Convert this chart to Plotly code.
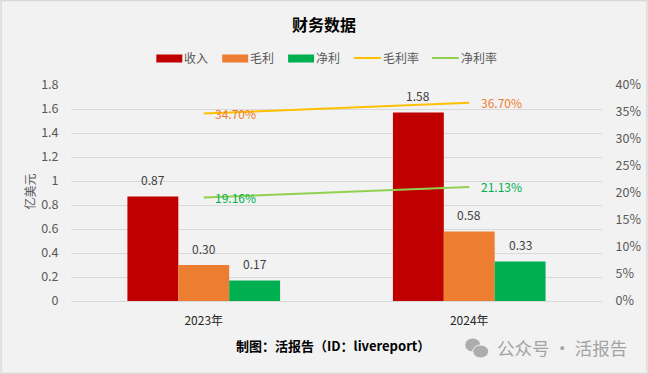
import plotly.graph_objects as go

W, H = 648, 374
FONT = "Noto Sans CJK SC, Microsoft YaHei, sans-serif"

# Data
categories = ["2023年", "2024年"]
revenue = [0.87, 1.57]
gross_profit = [0.30, 0.58]
net_profit = [0.17, 0.33]
gross_margin = [0.347, 0.367]
net_margin = [0.1916, 0.2113]
revenue_labels = ["0.87", "1.58"]
gross_profit_labels = ["0.30", "0.58"]
net_profit_labels = ["0.17", "0.33"]
gross_margin_labels = ["34.70%", "36.70%"]
net_margin_labels = ["19.16%", "21.13%"]
left_ticks = [0, 0.2, 0.4, 0.6, 0.8, 1, 1.2, 1.4, 1.6, 1.8]
left_tick_text = ["0", "0.2", "0.4", "0.6", "0.8", "1", "1.2", "1.4", "1.6", "1.8"]
right_ticks = [0, 0.05, 0.10, 0.15, 0.20, 0.25, 0.30, 0.35, 0.40]
right_tick_text = ["0%", "5%", "10%", "15%", "20%", "25%", "30%", "35%", "40%"]
title_text = "财务数据"
y_title = "亿美元"
credit = "制图：活报告（ID：livereport）"
watermark = "公众号 · 活报告"

RED, ORANGE, GREEN, GOLD, LIME = "#C00000", "#ED7D31", "#00B050", "#FFC000", "#92D050"
L, R, T, B = 70.5, 45.5, 85, 73


def px(x):
    return (x - L) / (W - L - R)


def py(y):
    return (H - B - y) / (H - T - B)


fig = go.Figure()
for name, vals, col in [("收入", revenue, RED), ("毛利", gross_profit, ORANGE), ("净利", net_profit, GREEN)]:
    fig.add_trace(go.Bar(name=name, x=categories, y=vals, marker=dict(color=col, line_width=0),
                         showlegend=False, cliponaxis=False))
for name, vals, col in [("毛利率", gross_margin, GOLD), ("净利率", net_margin, LIME)]:
    fig.add_trace(go.Scatter(name=name, x=categories, y=vals, yaxis="y2", mode="lines",
                             line=dict(color=col, width=2), showlegend=False))

ann = []
shapes = []


def text(x, y, s, size=12, color="#595959", **kw):
    ann.append(dict(x=px(x), y=py(y), xref="paper", yref="paper", text=s, showarrow=False,
                    font=dict(family=FONT, size=size, color=color), xanchor=kw.pop("xanchor", "center"),
                    yanchor="middle", **kw))


# Bar labels
for i, cat in enumerate(categories):
    for k, (vals, labels) in enumerate([(revenue, revenue_labels), (gross_profit, gross_profit_labels),
                                        (net_profit, net_profit_labels)]):
        ann.append(dict(x=i, y=vals[i], xref="x", yref="y", text=labels[i], showarrow=False,
                        xshift=(k - 1) * 51, yshift=17, yanchor="middle",
                        font=dict(family=FONT, size=12, color="#404040")))
    ann.append(dict(x=i, y=gross_margin[i], xref="x", yref="y2", text=gross_margin_labels[i], showarrow=False,
                    xshift=32, yshift=0, yanchor="middle", font=dict(family=FONT, size=12, color=ORANGE)))
    ann.append(dict(x=i, y=net_margin[i], xref="x", yref="y2", text=net_margin_labels[i], showarrow=False,
                    xshift=32, yshift=0, yanchor="middle", font=dict(family=FONT, size=12, color=GREEN)))

text(324, 24, "<b>" + title_text + "</b>", size=16, color="#000000")
text(332.5, 345, "<b>" + credit + "</b>", size=13, color="#000000")
text(562, 347, watermark, size=17.5, color="#a3a3a3")
text(28, 192, y_title, textangle=-90)

# Legend built to match the wide swatches
for x0, name, col in [(156, "收入", RED), (222, "毛利", ORANGE), (288, "净利", GREEN)]:
    shapes.append(dict(type="rect", xref="paper", yref="paper", x0=px(x0), x1=px(x0 + 26), y0=py(62.5), y1=py(54.5),
                       fillcolor=col, line_width=0))
    text(x0 + 26, 57.5, name, xanchor="left")
for x0, name, col in [(354, "毛利率", GOLD), (432, "净利率", LIME)]:
    shapes.append(dict(type="line", xref="paper", yref="paper", x0=px(x0), x1=px(x0 + 27), y0=py(58), y1=py(58),
                       line=dict(color=col, width=2)))
    text(x0 + 27, 57.5, name, xanchor="left")

# Chart border and watermark icon
shapes.append(dict(type="rect", xref="paper", yref="paper", x0=px(0.5), x1=px(647.5), y0=py(373.5), y1=py(0.5),
                   line=dict(color="#d9d9d9", width=1.5), fillcolor="rgba(0,0,0,0)"))
for x0, x1, y0, y1 in [(465, 481, 338, 352), (473, 489, 345, 358)]:
    shapes.append(dict(type="circle", xref="paper", yref="paper", x0=px(x0), x1=px(x1), y0=py(y1), y1=py(y0),
                       fillcolor="#adadad", line=dict(color="#f2f2f2", width=1)))

fig.update_layout(
    width=W, height=H, autosize=False,
    margin=dict(l=L, r=R, t=T, b=B, pad=0),
    paper_bgcolor="#F2F2F2", plot_bgcolor="#F2F2F2",
    font=dict(family=FONT, size=12, color="#595959"),
    barmode="group", bargap=0.425, bargroupgap=0,
    showlegend=False,
    annotations=ann, shapes=shapes,
    xaxis=dict(type="category", showgrid=False, zeroline=False, showline=False, automargin=False,
               ticks="outside", ticklen=9, tickcolor="rgba(0,0,0,0)",
               tickfont=dict(family=FONT, size=12, color="#262626")),
    yaxis=dict(range=[0, 1.8], tickvals=left_ticks, ticktext=left_tick_text, gridcolor="#d9d9d9", gridwidth=1,
               zeroline=True, zerolinecolor="#d9d9d9", zerolinewidth=1, showline=False, automargin=False,
               ticks="outside", ticklen=9, tickcolor="rgba(0,0,0,0)",
               tickfont=dict(family=FONT, size=12.5, color="#595959")),
    yaxis2=dict(range=[0, 0.40], tickvals=right_ticks, ticktext=right_tick_text, overlaying="y", side="right",
                showgrid=False, zeroline=False, showline=False, automargin=False,
                ticks="outside", ticklen=10, tickcolor="rgba(0,0,0,0)",
                tickfont=dict(family=FONT, size=12.5, color="#595959")),
)

fig.write_html("out.html", config={"displayModeBar": False},
               post_script="document.body.style.margin='0';document.body.style.overflow='hidden';")
